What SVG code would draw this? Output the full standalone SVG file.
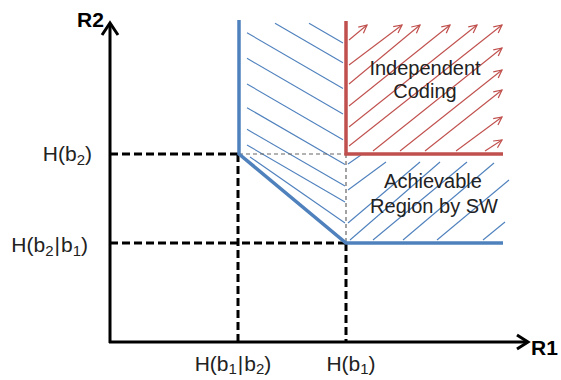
<svg xmlns="http://www.w3.org/2000/svg" width="561" height="380" viewBox="0 0 561 380">
<style>
.ax{stroke:#000;stroke-width:3;fill:none}
.dash{stroke:#000;stroke-width:3;stroke-dasharray:8 4;fill:none}
.thin{stroke:#666;stroke-width:1.2;stroke-dasharray:4 3;fill:none}
.blue{stroke:#4F81BD;stroke-width:3.5;fill:none}
.red{stroke:#C0504D;stroke-width:3.5;fill:none}
.bh{stroke:#4F81BD;stroke-width:1.1;fill:none}
.rh{stroke:#C0504D;stroke-width:1.1;fill:none;marker-end:url(#ra)}
.lbl{font-family:"Liberation Sans",Arial,sans-serif;font-size:21px;fill:#222}
.reg{font-family:"Liberation Sans",Arial,sans-serif;font-size:20px;fill:#222;text-anchor:middle}
.axl{font-family:"Liberation Sans",Arial,sans-serif;font-size:21px;font-weight:bold;fill:#000}
</style>
<defs>
<marker id="ra" viewBox="0 0 10 10" refX="9" refY="5" markerWidth="10" markerHeight="10" markerUnits="userSpaceOnUse" orient="auto">
<path d="M1,1 L9,5 L1,9" fill="none" stroke="#C0504D" stroke-width="1.2"/>
</marker>
</defs>
<g id="hatching">
<g id="blue-hatch-left">
<line class="bh" x1="309" y1="23.3" x2="343" y2="43"/>
<line class="bh" x1="275" y1="23.3" x2="343" y2="62.7"/>
<line class="bh" x1="247" y1="32.7" x2="343" y2="88.4"/>
<line class="bh" x1="247" y1="58.3" x2="343" y2="114"/>
<line class="bh" x1="247" y1="84" x2="343" y2="139.7"/>
<line class="bh" x1="247" y1="107.7" x2="345" y2="164.5"/>
<line class="bh" x1="247" y1="129.3" x2="345" y2="186.1"/>
<line class="bh" x1="247" y1="145" x2="345" y2="202"/>
<line class="bh" x1="250" y1="157" x2="345" y2="223"/>
</g>
<g id="blue-hatch-right">
<line class="bh" x1="348" y1="164" x2="361" y2="155"/>
<line class="bh" x1="348" y1="190" x2="386" y2="162"/>
<line class="bh" x1="348" y1="223" x2="420" y2="162"/>
<line class="bh" x1="350" y1="240" x2="440" y2="162"/>
<line class="bh" x1="373" y1="240" x2="467" y2="162"/>
<line class="bh" x1="403" y1="240" x2="494" y2="163"/>
<line class="bh" x1="437" y1="240" x2="509" y2="180"/>
<line class="bh" x1="483" y1="240" x2="505" y2="222"/>
</g>
<g id="red-hatch">
<line class="rh" x1="349" y1="40" x2="367" y2="25"/>
<line class="rh" x1="349" y1="65" x2="402" y2="25"/>
<line class="rh" x1="349" y1="84" x2="420" y2="25"/>
<line class="rh" x1="349" y1="106" x2="450" y2="25"/>
<line class="rh" x1="349" y1="127" x2="477" y2="25"/>
<line class="rh" x1="349" y1="146" x2="502" y2="25"/>
<line class="rh" x1="373" y1="151" x2="502" y2="48"/>
<line class="rh" x1="400" y1="151" x2="502" y2="70"/>
<line class="rh" x1="425" y1="151" x2="502" y2="90"/>
<line class="rh" x1="456" y1="151" x2="502" y2="117"/>
<line class="rh" x1="485" y1="151" x2="502" y2="140"/>
</g>
</g>
<g id="connectors">
<line class="thin" x1="239" y1="154" x2="346" y2="154"/>
<line class="thin" x1="346" y1="154" x2="346" y2="243"/>
<line class="dash" x1="110" y1="154" x2="239" y2="154"/>
<line class="dash" x1="238" y1="154" x2="238" y2="342"/>
<line class="dash" x1="110" y1="243" x2="346" y2="243"/>
<line class="dash" x1="346" y1="243" x2="346" y2="342"/>
</g>
<g id="boundary-sw">
<polyline class="blue" points="239,20 239,154 346,243 503,243"/>
</g>
<g id="boundary-independent">
<polyline class="red" points="346,21 346,154 503,154"/>
</g>
<g id="axes">
<line class="ax" x1="110" y1="343" x2="110" y2="24"/>
<polyline class="ax" points="102,35 110,23 118,35"/>
<line class="ax" x1="109" y1="342" x2="526" y2="342"/>
<polyline class="ax" points="517,335 528,342 517,349"/>
<text class="axl" x="77" y="27">R2</text>
<text class="axl" x="531" y="355">R1</text>
</g>
<g id="label-hb2">
<text class="lbl" x="92" y="161" text-anchor="end">H(b<tspan font-size="15" dy="4">2</tspan><tspan dy="-4">)</tspan></text>
</g>
<g id="label-hb2b1">
<text class="lbl" x="88" y="252" text-anchor="end">H(b<tspan font-size="15" dy="4">2</tspan><tspan dy="-4" dx="1">|</tspan><tspan dx="1">b</tspan><tspan font-size="15" dy="4">1</tspan><tspan dy="-4">)</tspan></text>
</g>
<g id="label-hb1b2">
<text class="lbl" x="233" y="371" text-anchor="middle">H(b<tspan font-size="15" dy="3">1</tspan><tspan dy="-3" dx="1">|</tspan><tspan dx="1">b</tspan><tspan font-size="15" dy="3">2</tspan><tspan dy="-3">)</tspan></text>
</g>
<g id="label-hb1">
<text class="lbl" x="351" y="371" text-anchor="middle">H(b<tspan font-size="15" dy="3">1</tspan><tspan dy="-3">)</tspan></text>
</g>
<g id="label-independent">
<text class="reg" x="425" y="75">Independent</text>
<text class="reg" x="425" y="98">Coding</text>
</g>
<g id="label-achievable">
<text class="reg" x="433" y="188">Achievable</text>
<text class="reg" x="434" y="213">Region by SW</text>
</g>
</svg>
